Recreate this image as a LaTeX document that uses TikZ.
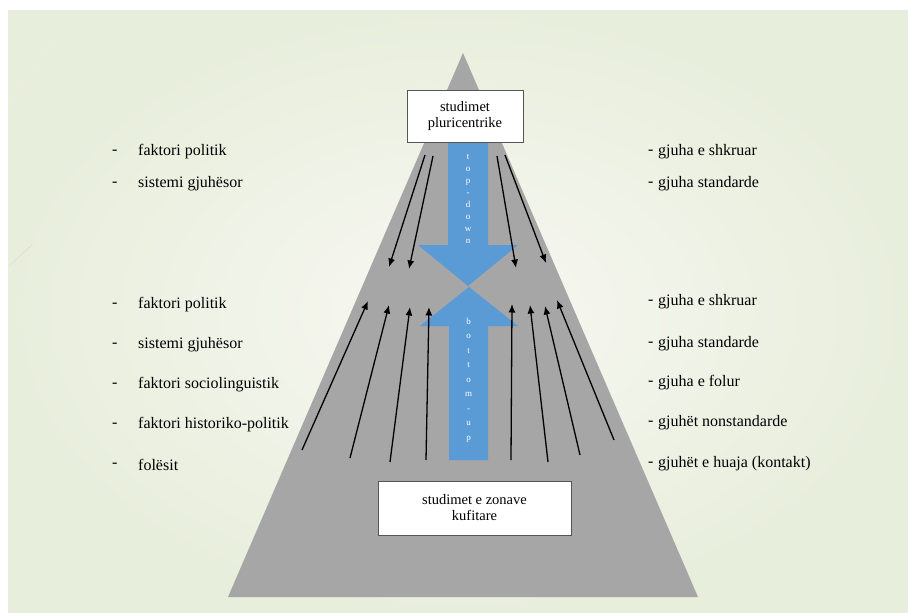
\documentclass[tikz,border=0pt]{standalone}
\usepackage{fontspec}
\setmainfont{Liberation Serif}
\usetikzlibrary{arrows.meta}
\definecolor{pyrgray}{HTML}{A6A6A6}
\definecolor{flowblue}{HTML}{5B9BD5}
\definecolor{bgedge}{HTML}{E8EEDC}
\definecolor{bgmid}{HTML}{F8F8F3}
\definecolor{boxline}{HTML}{555555}
\tikzset{
  labelbox/.style={draw=boxline, line width=1pt, fill=white, align=center,
    font=\fontsize{14.5}{16}\selectfont, inner sep=0pt},
  sidetext/.style={anchor=west, font=\fontsize{16}{18}\selectfont, inner sep=0pt, text=black},
  dashmark/.style={anchor=west, font=\fontsize{16}{18}\selectfont, inner sep=0pt, text=black},
  flowarrow/.style={-{Latex[length=8.5pt,width=7pt]}, line width=1.3pt, black},
  bigarrow/.style={fill=flowblue, draw=none},
  arrowtext/.style={text=white, align=center, inner sep=0pt}
}
\begin{document}
\begin{tikzpicture}[x=1pt,y=-1pt]
\useasboundingbox (0,0) rectangle (908,613);
\fill[white] (0,0) rectangle (908,613);
% slide background
\shade[inner color=bgmid, outer color=bgedge] (8,10) rectangle (908,613);
\draw[white!85!gray, line width=0.8pt, opacity=0.6] (10,105) -- (55,35);
\draw[white!70!gray, line width=0.8pt, opacity=0.7] (10,265) -- (32,245);

% pyramid
\fill[pyrgray] (463,53) -- (698,597) -- (228,597) -- cycle;

% boxes
\node[labelbox, minimum width=116pt, minimum height=52pt] (top) at (465,116) {studimet\\pluricentrike};
\node[labelbox, minimum width=193pt, minimum height=54pt] (bottom) at (474.5,508) {studimet e zonave\\kufitare};

% top-down arrow
\fill[bigarrow] (448,143) -- (488,143) -- (488,245) -- (518,245) -- (468,286) -- (418,245) -- (448,245) -- cycle;
\node[arrowtext, font=\fontsize{9}{12}\selectfont] (td) at (468,199) {t\\o\\p\\-\\d\\o\\w\\n};

% bottom-up arrow
\fill[bigarrow] (449,460) -- (488,460) -- (488,326) -- (518,326) -- (469,287) -- (420,326) -- (449,326) -- cycle;
\node[arrowtext, font=\fontsize{9}{14.5}\selectfont] (bu) at (468.5,380) {b\\o\\t\\t\\o\\m\\-\\u\\p};

% downward arrows from the pluricentric box
\coordinate (d1s) at (425,155); \coordinate (d1e) at (389,267);
\coordinate (d2s) at (433,156); \coordinate (d2e) at (409,269);
\coordinate (d3s) at (497,156); \coordinate (d3e) at (516,268);
\coordinate (d4s) at (505,155); \coordinate (d4e) at (546,263);
\foreach \i in {1,...,4} \draw[flowarrow] (d\i s) -- (d\i e);

% upward arrows from the border-zone studies
\coordinate (u1s) at (302,450); \coordinate (u1e) at (368,301);
\coordinate (u2s) at (350,458); \coordinate (u2e) at (389,305);
\coordinate (u3s) at (390,462); \coordinate (u3e) at (410,307);
\coordinate (u4s) at (426,460); \coordinate (u4e) at (429,307);
\coordinate (u5s) at (511,460); \coordinate (u5e) at (512,304);
\coordinate (u6s) at (548,462); \coordinate (u6e) at (530,305);
\coordinate (u7s) at (580,455); \coordinate (u7e) at (545,306);
\coordinate (u8s) at (614,440); \coordinate (u8e) at (557,300);
\foreach \i in {1,...,8} \draw[flowarrow] (u\i s) -- (u\i e);

% left lists
\foreach \y/\t [count=\k] in {152/faktori politik,184/sistemi gjuhësor,
  305/faktori politik,345/sistemi gjuhësor,385/faktori sociolinguistik,
  425/faktori historiko-politik,465/folësit}{
  \node[dashmark] (ld\k) at (112,\y) {-};
  \node[sidetext] (lt\k) at (138,\y) {\t};
}
% right lists
\foreach \y/\t [count=\k] in {152/gjuha e shkruar,184/gjuha standarde,
  302/gjuha e shkruar,344/gjuha standarde,383/gjuha e folur,
  423/gjuhët nonstandarde,464/gjuhët e huaja (kontakt)}{
  \node[dashmark] (rd\k) at (648,\y) {-};
  \node[sidetext] (rt\k) at (658,\y) {\t};
}
\end{tikzpicture}
\end{document}
